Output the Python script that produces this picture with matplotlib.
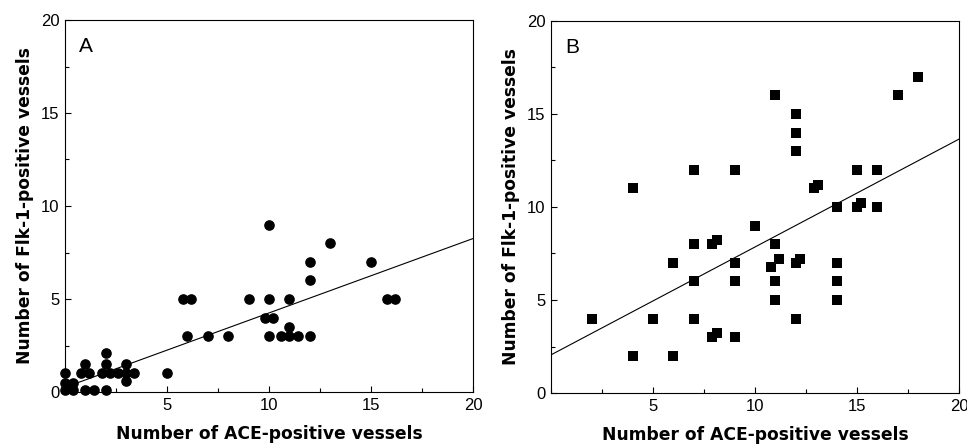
import numpy as np
import matplotlib
matplotlib.use("Agg")
import matplotlib.pyplot as plt
from matplotlib.ticker import MultipleLocator

# panel A: circles
ace_a = [0, 0, 0, 0.4, 0.4, 1.0, 0.8, 1.2, 1.0, 1.4, 2.0, 2.0, 1.8, 2.2, 2.0,
         2.6, 3.0, 3.0, 3.0, 3.4, 5, 6, 7, 8, 5.8, 6.2, 9, 10, 11, 9.8, 10.2,
         10, 10.6, 11, 11.4, 11, 12, 12, 12, 13, 15, 15.8, 16.2, 10]
flk_a = [1, 0.5, 0.1, 0.5, 0.1, 1.5, 1, 1, 0.1, 0.1, 2.1, 1.5, 1, 1, 0.1,
         1, 1.5, 1, 0.6, 1, 1, 3, 3, 3, 5, 5, 5, 5, 5, 4, 4,
         3, 3, 3, 3, 3.5, 3, 6, 7, 8, 7, 5, 5, 9]
fit_a = (0.25, 0.40)   # intercept, slope

# panel B: squares
ace_b = [2, 4, 4, 5, 6, 6, 7, 7, 7, 7, 7.9, 8.15, 7.9, 8.15, 9, 9, 9, 9,
         10, 11, 11, 11.2, 10.8, 11, 11, 12, 12, 12, 12.2, 12, 12,
         13.1, 12.9, 14, 14, 14, 14, 15, 15, 15.2, 16, 16, 17, 18]
flk_b = [4, 11, 2, 4, 7, 2, 12, 8, 6, 4, 8, 8.2, 3, 3.2, 12, 7, 6, 3,
         9, 16, 8, 7.2, 6.8, 6, 5, 15, 14, 13, 7.2, 7, 4,
         11.2, 11, 10, 7, 6, 5, 12, 10, 10.2, 12, 10, 16, 17]
fit_b = (2.05, 0.58)

xticks = [5, 10, 15, 20]
xlabel = "Number of ACE-positive vessels"
ylabel = "Number of Flk-1-positive vessels"

fig = plt.figure(figsize=(9.67, 4.47), dpi=100)
ax_a = fig.add_axes([65/967, 55/447, 408/967, 372/447])
ax_b = fig.add_axes([551/967, 54/447, 408/967, 372/447])

def style(ax, letter):
    ax.set_xlim(0, 20)
    ax.set_ylim(0, 20)
    ax.set_xticks(xticks)
    ax.yaxis.set_major_locator(MultipleLocator(5))
    ax.xaxis.set_minor_locator(MultipleLocator(2.5))
    ax.yaxis.set_minor_locator(MultipleLocator(2.5))
    ax.tick_params(which="both", direction="in", width=0.8,
                   labelsize=12, pad=4)
    ax.tick_params(which="major", length=4)
    ax.tick_params(which="minor", length=3)
    for lab in ax.get_xticklabels() + ax.get_yticklabels():
        lab.set_fontfamily("Liberation Sans")
    for s in ax.spines.values():
        s.set_linewidth(0.8)
    ax.set_xlabel(xlabel, fontsize=12.3, fontweight="bold", labelpad=9)
    ax.set_ylabel(ylabel, fontsize=12.3, fontweight="bold", labelpad=5)
    ax.text(0.035, 0.955, letter, transform=ax.transAxes, fontsize=15,
            family="Liberation Sans", va="top", ha="left")

xs = np.array([0, 20])
ax_a.plot(xs, fit_a[0] + fit_a[1] * xs, color="black", lw=0.8)
ax_a.scatter(ace_a, flk_a, s=44, marker="o", color="black", zorder=3, clip_on=False)
style(ax_a, "A")

ax_b.plot(xs, fit_b[0] + fit_b[1] * xs, color="black", lw=0.8)
ax_b.scatter(ace_b, flk_b, s=48, marker="s", color="black", zorder=3, linewidths=0)
style(ax_b, "B")

fig.savefig("out.png", dpi=100)
